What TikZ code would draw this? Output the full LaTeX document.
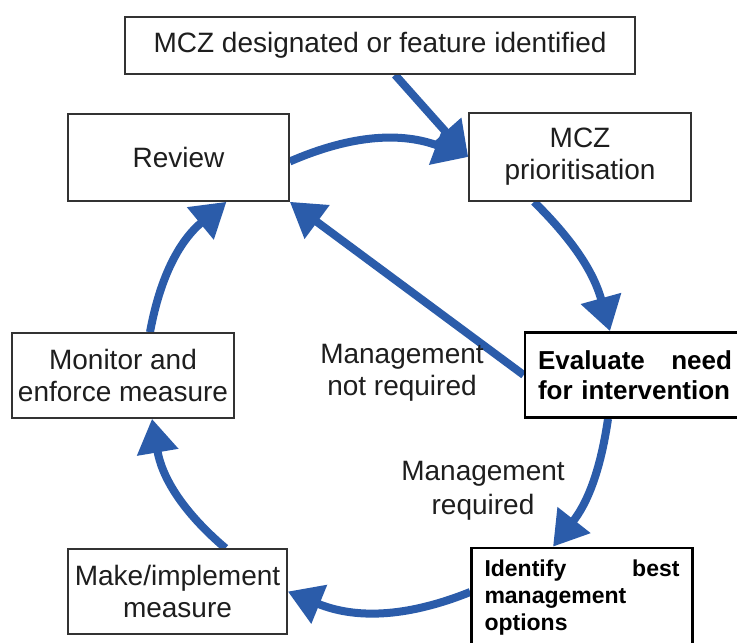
\documentclass[tikz,border=0pt]{standalone}
\usepackage{fontspec}
\setmainfont{Liberation Sans}
\usetikzlibrary{arrows.meta,backgrounds}
\definecolor{cyc}{RGB}{43,92,170}
\definecolor{ink}{RGB}{30,30,30}
\begin{document}
\begin{tikzpicture}[x=0.5pt,y=-0.5pt,
  box/.style={draw=black!80, line width=0.8pt, fill=white, inner sep=0pt, align=center, text=ink, font=\fontsize{14}{16}\selectfont},
  boxb/.style={draw=black, line width=1.3pt, fill=white, inner sep=0pt, align=left, text=black},
  arr/.style={draw=cyc, line width=4pt, -{Triangle[length=17pt,width=20pt]}},
  lbl/.style={align=center, text=ink, font=\fontsize{14}{16}\selectfont}
]
\useasboundingbox (0,0) rectangle (737,642);
\clip (0,0) rectangle (737,642);

\node[box, minimum width=255pt, minimum height=28.5pt] (top) at (380,45.5) {MCZ designated or feature identified};
\node[box, minimum width=111pt, minimum height=44pt] (prio) at (580,157) {MCZ\\prioritisation};
\node[box, minimum width=110.5pt, minimum height=43.5pt] (review) at (178.5,157.5) {Review};
\node[box, minimum width=111pt, minimum height=42.5pt] (mon) at (123,375.5) {Monitor and\\enforce measure};
\node[boxb, minimum width=110pt, minimum height=42.5pt, text width=97pt, font=\bfseries\fontsize{13}{15}\selectfont] (eval) at (635,375) {Evaluate\hfill need\\for intervention};
\node[box, minimum width=109.5pt, minimum height=42.5pt] (make) at (177.5,591.5) {Make/implement\\measure};
\node[boxb, minimum width=110.5pt, minimum height=50pt, text width=97.5pt, font=\bfseries\fontsize{11.5}{13.5}\selectfont] (iden) at (582,598) {Identify\hfill best\\management\\options};

\node[lbl] (nr) at (402,373) {Management\\not required};
\node[lbl, font=\fontsize{14}{17}\selectfont] (rq) at (483,491) {Management\\required};

\begin{scope}[on background layer]
\fill[white] (0,0) rectangle (737,642);
\draw[arr] ([xshift=7.5pt]top.south) -- (prio.west);
\draw[arr] ([yshift=-2pt]review.east) to[bend left=22] (prio.west);
\draw[arr] ([xshift=-23pt]prio.south) to[bend left=15] ([xshift=-12.5pt]eval.north);
\draw[arr] ([xshift=-13.5pt]eval.south) to[bend left=15] ([xshift=-14.5pt]iden.north);
\draw[arr] ([yshift=3pt]iden.west) to[bend left=22] (make.east);
\draw[arr] ([xshift=24pt]make.north) to[bend left=20] ([xshift=14.5pt]mon.south);
\draw[arr] ([xshift=13.5pt]mon.north) to[bend left=20] ([xshift=24pt]review.south);
\draw[arr] (eval.west) -- (review.south east);
\end{scope}
\end{tikzpicture}
\end{document}
